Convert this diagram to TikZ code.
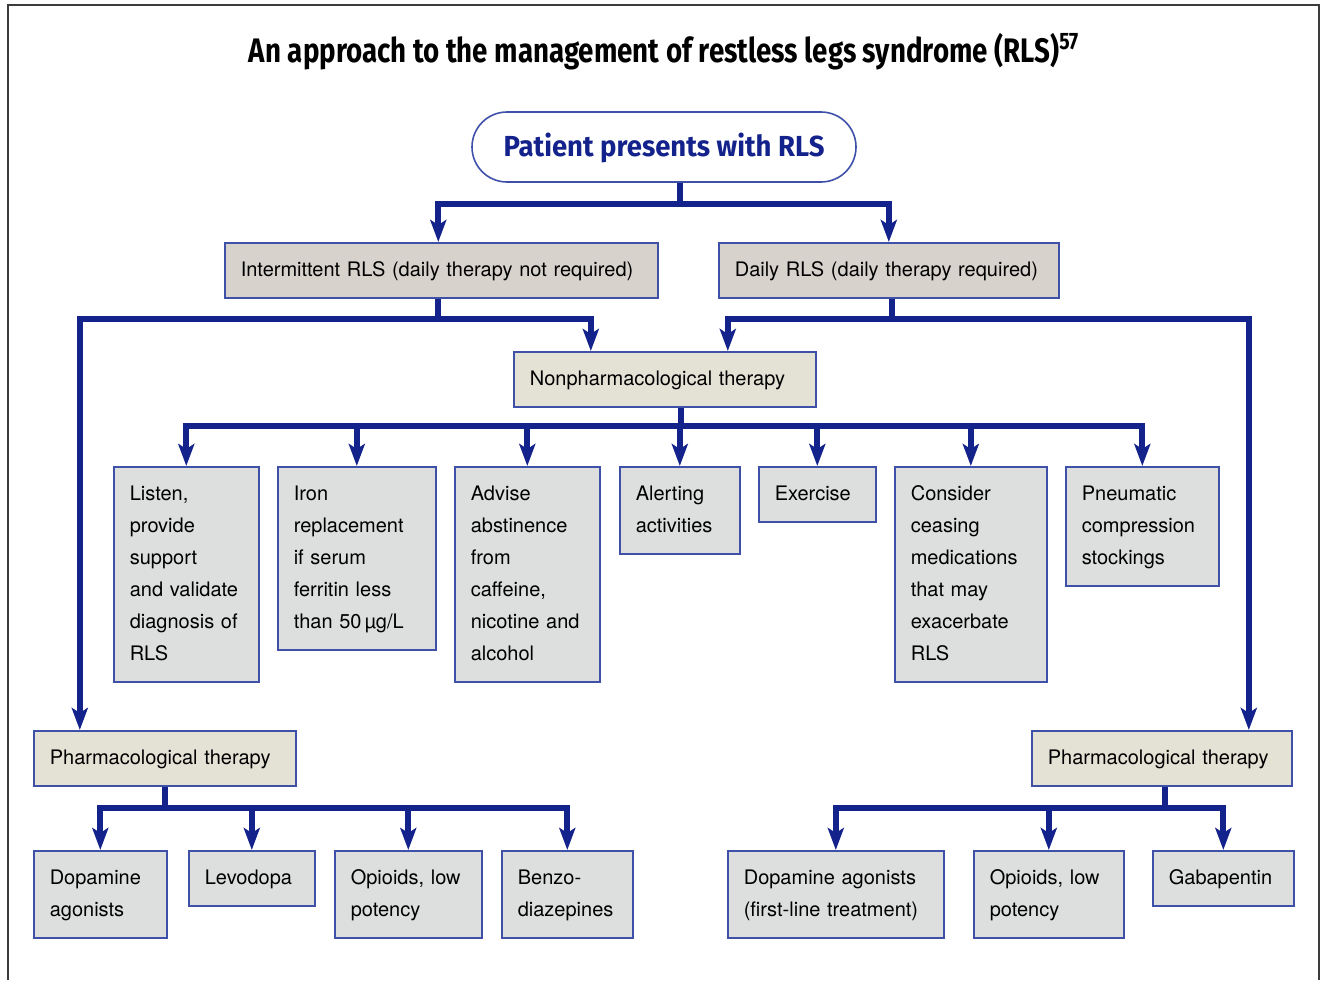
\documentclass[tikz,border=0pt]{standalone}
\usepackage{fontspec}
\usepackage{graphicx}
\setmainfont{TeX Gyre Heros}
\newfontfamily\headfont{Fira Sans}
\usetikzlibrary{arrows.meta}
\definecolor{linkblue}{RGB}{20,34,140}
\definecolor{edgeblue}{RGB}{62,80,168}
\definecolor{greybox}{RGB}{220,223,222}
\definecolor{sandbox}{RGB}{228,225,213}
\definecolor{pinkbox}{RGB}{216,210,204}
\definecolor{framegrey}{RGB}{60,60,60}
\hyphenpenalty=10000
\exhyphenpenalty=10000

\begin{document}
\begin{tikzpicture}[x=0.5pt,y=-0.5pt,
	box/.style={draw=edgeblue,line width=0.8pt,anchor=north west,align=left,
		inner xsep=8pt,inner ysep=5.75pt,font=\fontsize{10}{16}\selectfont,
		execute at begin node=\strut,execute at end node=\strut},
	option/.style={box,fill=greybox},
	branch/.style={box,fill=sandbox},
	course/.style={box,fill=pinkbox},
	link/.style={draw=linkblue,line width=3pt},
	arrow/.style={link,-{Stealth[length=11pt,width=8pt,inset=2.5pt]}}]
	\useasboundingbox (0,0) rectangle (1320,980);
	% frame
	\draw[framegrey,line width=1pt] (8,980) -- (8,5) -- (1319,5) -- (1319,980);
	% title
	\node (title) [anchor=base] at (664,62) {\resizebox{415pt}{\height}{\headfont\bfseries\fontsize{17}{20}\selectfont An approach to the management of restless legs syndrome (RLS)\textsuperscript{57}}};
	\node (patient) [draw=edgeblue,line width=0.8pt,fill=white,rounded corners=17.5pt,minimum width=192pt,minimum height=35pt,
		text=linkblue,text height=9.5pt,text depth=0pt,inner sep=0pt] at (664,147)
		{\resizebox{160.5pt}{\height}{\headfont\bfseries\fontsize{14.5}{16}\selectfont Patient presents with RLS}};
	% course of RLS
	\node (inter) [course,text width=200.5pt] at (224,242) {Intermittent RLS (daily therapy not required)};
	\node (daily) [course,text width=154pt] at (718,242) {Daily RLS (daily therapy required)};
	\node (nonph) [branch,text width=135pt] at (513,351) {Nonpharmacological therapy};
	% nonpharmacological options
	\node (listen) [option,text width=56.5pt] at (113,466) {Listen,\\provide\\support\\and validate\\diagnosis of\\RLS};
	\node (iron) [option,text width=63pt] at (277,466) {Iron\\replacement\\if serum\\ferritin less\\than 50\,µg/L};
	\node (advise) [option,text width=56.5pt] at (454,466) {Advise\\abstinence\\from\\caffeine,\\nicotine and\\alcohol};
	\node (alert) [option,text width=44pt] at (619,466) {Alerting\\activities};
	\node (exer) [option,text width=42.5pt] at (758,466) {Exercise};
	\node (consider) [option,text width=60pt] at (894,466) {Consider\\ceasing\\medications\\that may\\exacerbate\\RLS};
	\node (pneu) [option,text width=60.5pt] at (1065,466) {Pneumatic\\compression\\stockings};
	% pharmacological options
	\node (pharmL) [branch,text width=115pt] at (33,730) {Pharmacological therapy};
	\node (pharmR) [branch,text width=114pt] at (1031,730) {Pharmacological therapy};
	\node (dopaL) [option,text width=50.5pt] at (33,850) {Dopamine\\agonists};
	\node (levo) [option,text width=47pt] at (188,850) {Levodopa};
	\node (opiL) [option,text width=57.5pt] at (334,850) {Opioids, low\\potency};
	\node (benzo) [option,text width=49.5pt] at (501,850) {Benzo-\\diazepines};
	\node (dopaR) [option,text width=92pt] at (727,850) {Dopamine agonists\\(first-line treatment)};
	\node (opiR) [option,text width=59pt] at (973,850) {Opioids, low\\potency};
	\node (gaba) [option,text width=54.5pt] at (1152,850) {Gabapentin};
	% connectors
	\draw[link] ([xshift=8pt]patient.south) -- ++(0pt,-10.5pt) coordinate (h1);
	\draw[arrow] (h1) -| ([xshift=-1.5pt]inter.north);
	\draw[arrow] (h1) -| (daily.north);
	\draw[link] ([xshift=-1.5pt]inter.south) -- ++(0pt,-10pt) coordinate (h2);
	\draw[arrow] (h2) -| ([xshift=-42.5pt]pharmL.north);
	\draw[arrow] (h2) -| ([xshift=-37pt]nonph.north);
	\draw[link] ([xshift=1.5pt]daily.south) -- ++(0pt,-10pt) coordinate (h3);
	\draw[arrow] (h3) -| ([xshift=31.5pt]nonph.north);
	\draw[arrow] (h3) -| ([xshift=43.5pt]pharmR.north);
	\draw[link] ([xshift=8pt]nonph.south) -- ++(0pt,-9pt) coordinate (h4);
	\foreach \n in {listen,iron,advise,alert,exer,consider,pneu}
		\draw[arrow] (h4) -| (\n.north);
	\draw[link] (pharmL.south) -- ++(0pt,-10.5pt) coordinate (h5);
	\foreach \n in {dopaL,levo,opiL,benzo}
		\draw[arrow] (h5) -| (\n.north);
	\draw[link] ([xshift=1.5pt]pharmR.south) -- ++(0pt,-10.5pt) coordinate (h6);
	\foreach \n in {dopaR,opiR,gaba}
		\draw[arrow] (h6) -| (\n.north);
\end{tikzpicture}
\end{document}
